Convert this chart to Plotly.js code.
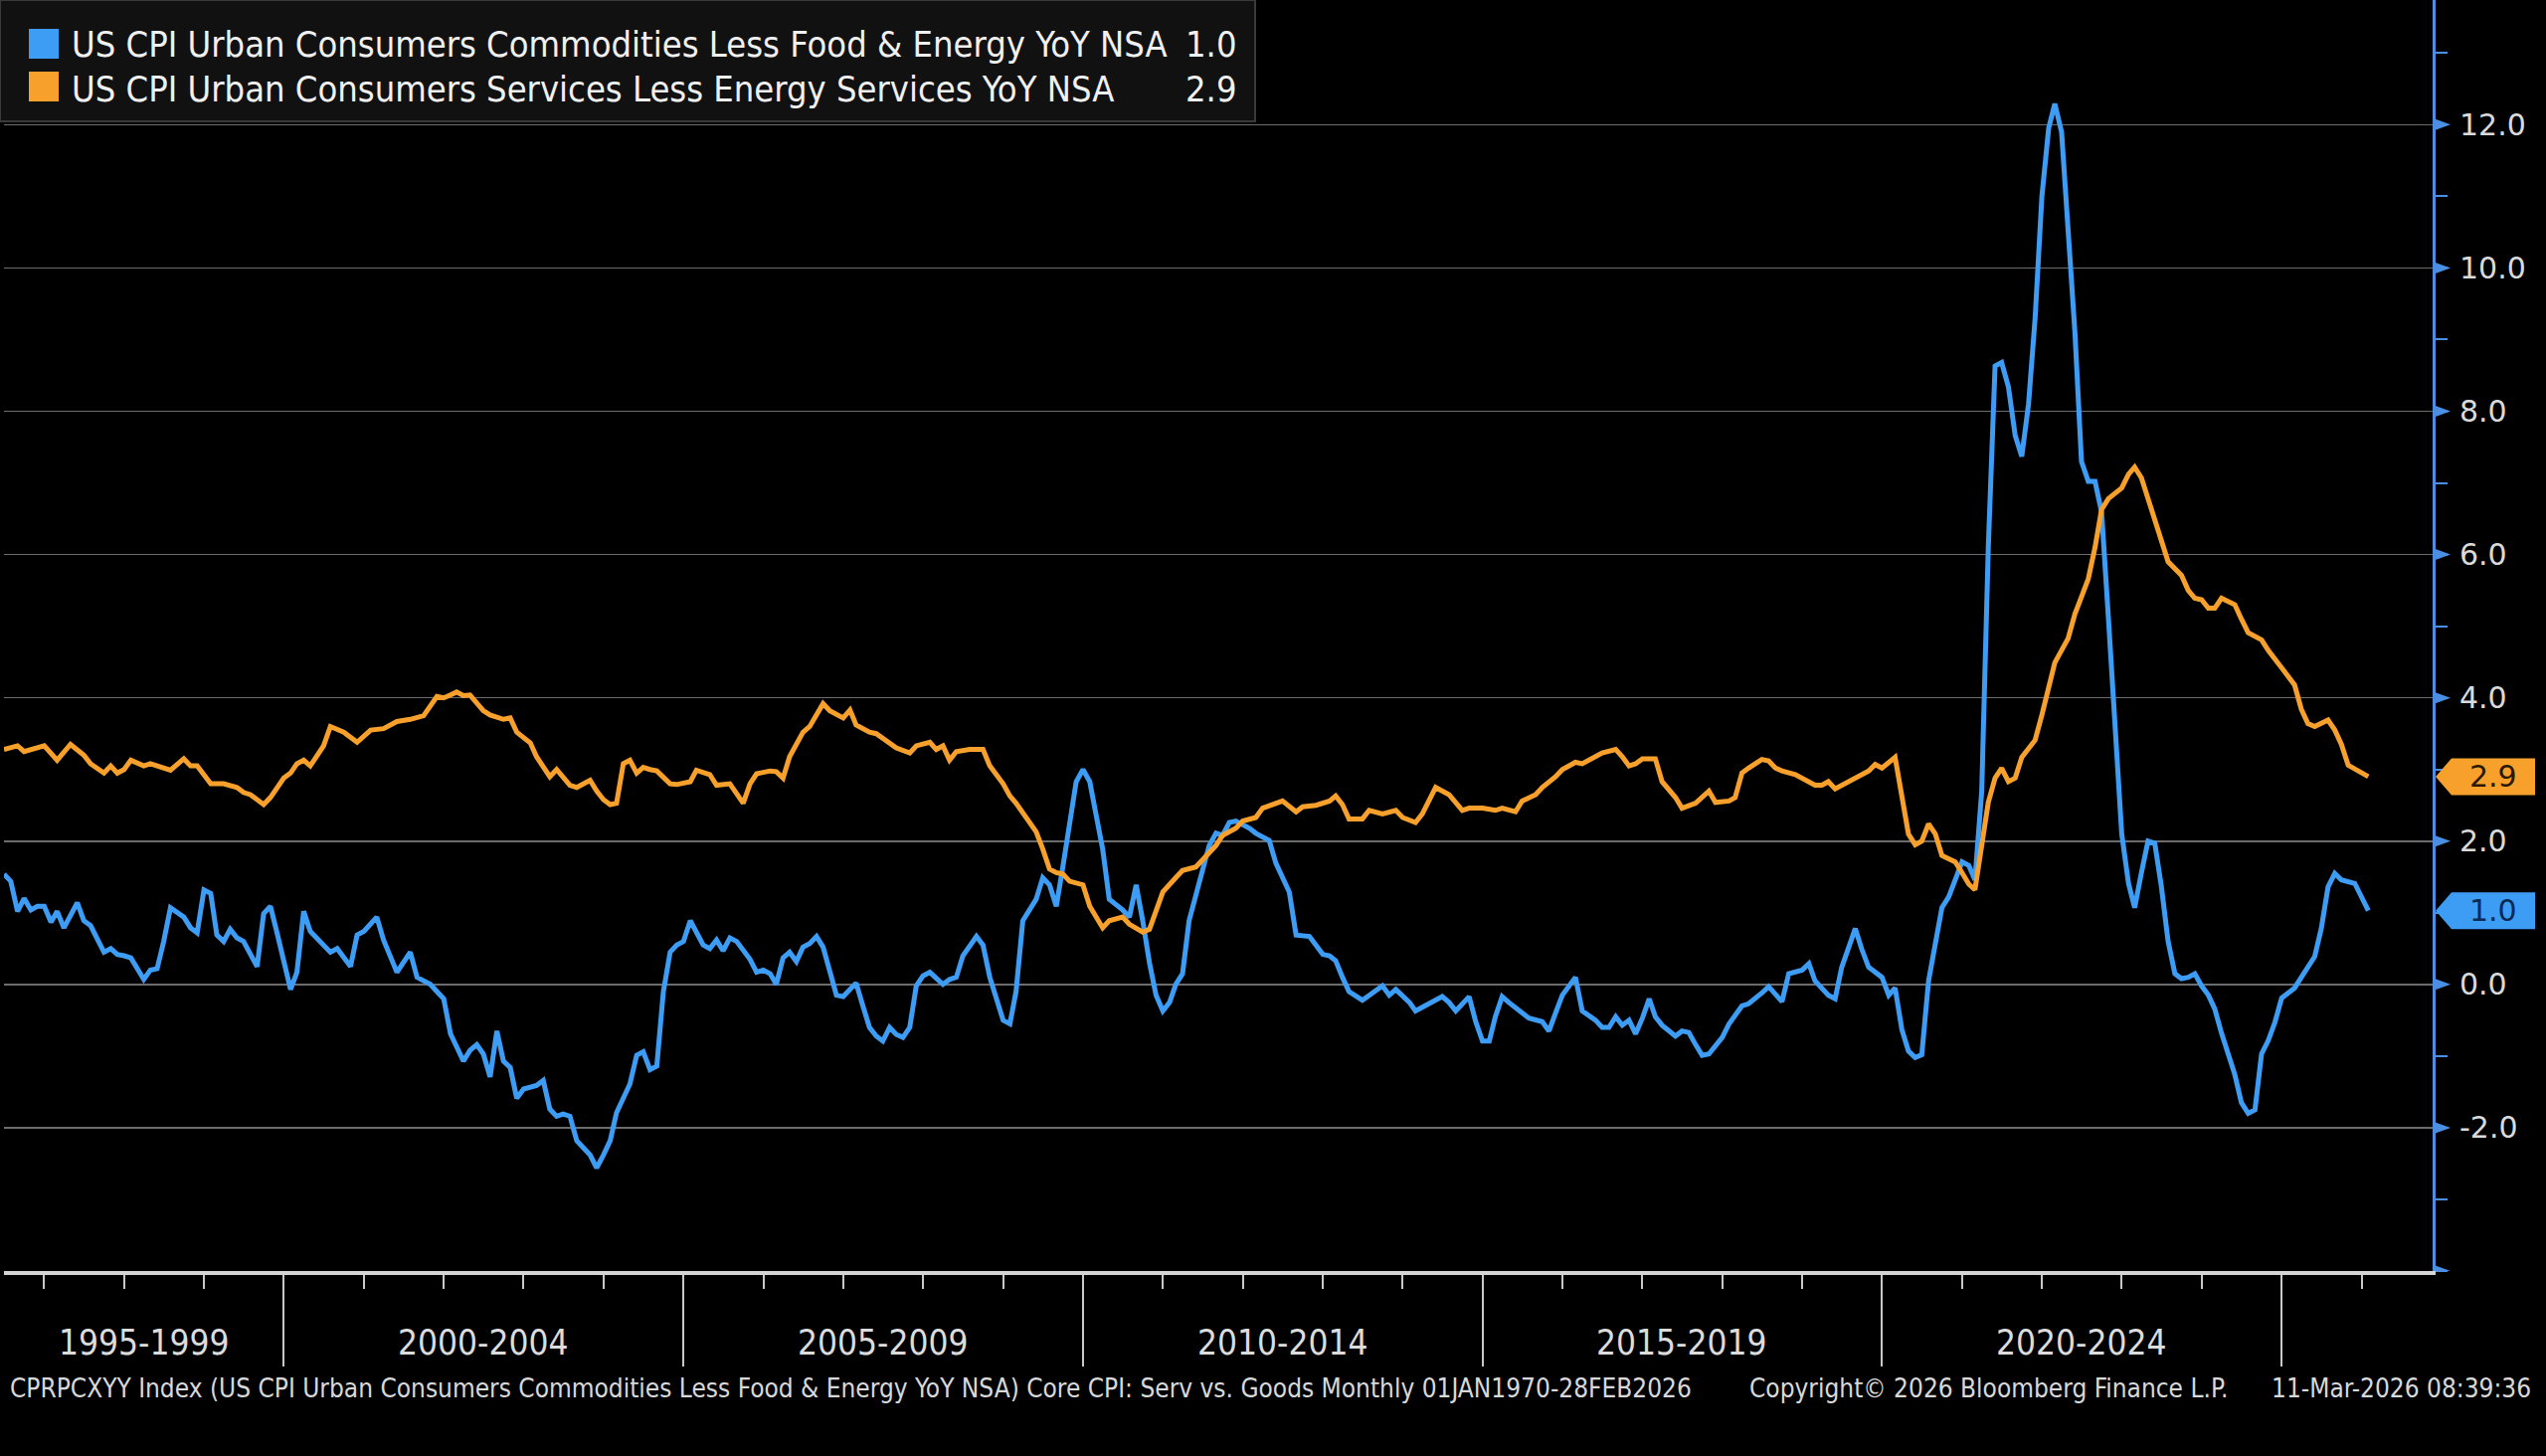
<!DOCTYPE html>
<html>
<head>
<meta charset="utf-8">
<script src="https://cdn.plot.ly/plotly-3.0.1.min.js"></script>
<style>
html,body{margin:0;padding:0;background:#000;}
#chart{width:2560px;height:1464px;}
</style>
</head>
<body>
<div id="chart"></div>
<script>
// ---------------- DATA ----------------
const goodsName = "US CPI Urban Consumers Commodities Less Food & Energy YoY NSA";
const servicesName = "US CPI Urban Consumers Services Less Energy Services YoY NSA";

const goodsDates = [
"1996-06","1996-07","1996-08","1996-09","1996-10","1996-11","1996-12",
"1997-01","1997-02","1997-03","1997-05","1997-06","1997-07","1997-09","1997-10","1997-11","1997-12",
"1998-01","1998-03","1998-04","1998-05","1998-06","1998-07","1998-09","1998-10","1998-11","1998-12",
"1999-01","1999-02","1999-03","1999-04","1999-05","1999-06","1999-08","1999-09","1999-10","1999-11",
"2000-01","2000-02","2000-03","2000-04","2000-05","2000-07","2000-08","2000-10","2000-11","2000-12",
"2001-02","2001-03","2001-05","2001-06","2001-07","2001-08","2001-10","2001-11","2001-12",
"2002-01","2002-02","2002-03","2002-04","2002-05","2002-06","2002-07","2002-08","2002-09","2002-10","2002-11","2002-12",
"2003-02","2003-03","2003-04","2003-05","2003-06","2003-07","2003-08","2003-10","2003-11","2003-12",
"2004-01","2004-02","2004-04","2004-05","2004-06","2004-07","2004-08","2004-09","2004-10","2004-11","2004-12",
"2005-01","2005-02","2005-03","2005-04","2005-05","2005-06","2005-07","2005-08","2005-10","2005-11","2005-12",
"2006-01","2006-02","2006-03","2006-04","2006-05","2006-06","2006-07","2006-08","2006-09","2006-11","2006-12",
"2007-02","2007-03","2007-04","2007-05","2007-06","2007-07","2007-08","2007-09","2007-10","2007-11","2007-12",
"2008-01","2008-03","2008-04","2008-05","2008-06","2008-08","2008-09","2008-10","2008-12",
"2009-01","2009-02","2009-03","2009-05","2009-06","2009-07","2009-08","2009-09","2009-10","2009-11","2009-12",
"2010-01","2010-02","2010-03","2010-04","2010-06","2010-07","2010-08","2010-09","2010-10","2010-11","2010-12",
"2011-01","2011-02","2011-03","2011-04","2011-06","2011-07","2011-08","2011-09","2011-10","2011-11",
"2012-01","2012-02","2012-04","2012-05","2012-07","2012-08","2012-10","2012-11","2012-12",
"2013-01","2013-02","2013-03","2013-04","2013-06","2013-07","2013-09","2013-10","2013-11",
"2014-01","2014-02","2014-04","2014-06","2014-07","2014-08","2014-10","2014-11","2014-12",
"2015-01","2015-02","2015-03","2015-04","2015-06","2015-07","2015-09","2015-10","2015-11","2015-12",
"2016-02","2016-03","2016-05","2016-06","2016-07","2016-08","2016-09","2016-10","2016-11","2016-12",
"2017-01","2017-02","2017-03","2017-05","2017-06","2017-07","2017-08","2017-09","2017-10","2017-12",
"2018-01","2018-03","2018-04","2018-05","2018-06","2018-07","2018-08","2018-09","2018-10","2018-12",
"2019-01","2019-02","2019-04","2019-05","2019-06","2019-07","2019-08","2019-09","2019-10","2019-12",
"2020-01","2020-02","2020-03","2020-04","2020-05","2020-06","2020-07","2020-09","2020-10","2020-11","2020-12",
"2021-01","2021-02","2021-03","2021-04","2021-05","2021-06","2021-07","2021-08","2021-09","2021-10","2021-11","2021-12",
"2022-01","2022-02","2022-03","2022-04","2022-05","2022-06","2022-07","2022-08","2022-09","2022-10","2022-11","2022-12",
"2023-01","2023-02","2023-03","2023-04","2023-05","2023-06","2023-07","2023-08","2023-09","2023-10","2023-11","2023-12",
"2024-01","2024-02","2024-03","2024-05","2024-06","2024-07","2024-08","2024-09","2024-10","2024-11","2024-12",
"2025-02","2025-03","2025-05","2025-06","2025-07","2025-08","2025-09","2025-11","2025-12",
"2026-01"
];
const goodsValues = [
1.54,1.44,1.02,1.20,1.04,1.09,1.09,
0.87,1.02,0.79,1.14,0.89,0.82,0.45,0.50,0.42,0.40,
0.37,0.07,0.20,0.22,0.60,1.07,0.94,0.79,0.72,1.32,
1.27,0.69,0.60,0.77,0.65,0.60,0.25,0.99,1.09,0.72,
-0.07,0.17,1.02,0.74,0.65,0.45,0.50,0.25,0.69,0.74,
0.94,0.62,0.17,0.32,0.45,0.10,0.00,-0.10,-0.20,
-0.69,-0.89,-1.07,-0.92,-0.84,-0.97,-1.29,-0.65,-1.07,-1.16,-1.59,-1.46,
-1.41,-1.34,-1.74,-1.84,-1.81,-1.84,-2.18,-2.38,-2.56,-2.38,
-2.18,-1.79,-1.39,-0.99,-0.94,-1.19,-1.14,-0.10,0.45,0.55,0.60,
0.89,0.72,0.55,0.50,0.62,0.47,0.65,0.60,0.35,0.17,0.20,
0.15,0.00,0.37,0.45,0.32,0.52,0.57,0.67,0.52,-0.15,-0.17,
0.02,-0.30,-0.60,-0.72,-0.79,-0.60,-0.70,-0.74,-0.60,-0.02,0.12,
0.17,0.00,0.07,0.10,0.40,0.67,0.55,0.10,-0.50,
-0.55,-0.10,0.89,1.19,1.49,1.39,1.09,1.64,2.28,2.83,3.00,
2.83,2.38,1.89,1.19,1.04,0.94,1.39,0.89,0.30,-0.15,-0.37,
-0.25,0.00,0.15,0.89,1.59,1.94,2.11,2.08,2.26,2.28,
2.18,2.11,2.01,1.69,1.29,0.69,0.67,0.55,0.42,
0.40,0.33,0.10,-0.10,-0.22,-0.15,-0.02,-0.15,-0.07,
-0.25,-0.37,-0.27,-0.17,-0.25,-0.37,-0.17,-0.52,-0.79,
-0.79,-0.45,-0.17,-0.25,-0.40,-0.47,-0.52,-0.65,-0.40,-0.15,
0.10,-0.37,-0.50,-0.60,-0.60,-0.45,-0.57,-0.50,-0.69,-0.47,
-0.20,-0.45,-0.57,-0.72,-0.65,-0.67,-0.84,-0.99,-0.97,-0.74,
-0.55,-0.30,-0.27,-0.20,-0.12,-0.03,-0.15,-0.24,0.15,0.20,
0.29,0.05,-0.15,-0.20,0.24,0.49,0.78,0.49,0.24,0.10,
-0.15,-0.05,-0.63,-0.93,-1.02,-0.98,0.05,1.07,1.22,1.46,1.71,
1.66,1.46,2.70,6.10,8.63,8.68,8.34,7.66,7.37,8.10,9.30,11.00,
11.95,12.29,11.90,10.50,9.10,7.30,7.02,7.02,6.59,5.12,3.56,2.10,
1.41,1.07,1.56,2.00,1.97,1.37,0.60,0.15,0.08,0.10,0.15,-0.02,
-0.15,-0.34,-0.68,-1.26,-1.65,-1.80,-1.75,-0.97,-0.78,-0.53,-0.19,
-0.05,0.10,0.39,0.78,1.36,1.55,1.46,1.41,1.21,
1.03
];

const servicesDates = [
"1996-06","1996-08","1996-09","1996-10","1996-12",
"1997-02","1997-04","1997-06","1997-07","1997-09","1997-10","1997-11","1997-12",
"1998-01","1998-03","1998-04","1998-06","1998-07","1998-09","1998-10","1998-11",
"1999-01","1999-03","1999-05","1999-06","1999-07","1999-09","1999-10","1999-12",
"2000-01","2000-02","2000-03","2000-04","2000-06","2000-07","2000-09","2000-11",
"2001-01","2001-03","2001-05","2001-07","2001-09","2001-11","2001-12",
"2002-01","2002-02","2002-03","2002-04","2002-06","2002-07","2002-09","2002-10","2002-11",
"2003-01","2003-02","2003-04","2003-05","2003-06","2003-07","2003-08","2003-10","2003-11","2003-12",
"2004-01","2004-02","2004-03","2004-04","2004-05","2004-06","2004-07","2004-08","2004-10","2004-11",
"2005-01","2005-02","2005-04","2005-05","2005-07","2005-08","2005-09","2005-10","2005-11",
"2006-01","2006-02","2006-03","2006-04","2006-06","2006-07","2006-09","2006-10","2006-12",
"2007-01","2007-02","2007-04","2007-05","2007-06","2007-08","2007-10","2007-11",
"2008-01","2008-02","2008-03","2008-04","2008-05","2008-07","2008-09","2008-10","2008-12",
"2009-01","2009-02","2009-04","2009-05","2009-06","2009-07","2009-08","2009-09","2009-10","2009-12",
"2010-01","2010-02","2010-03","2010-04","2010-06","2010-07","2010-09","2010-10","2010-11","2010-12",
"2011-02","2011-03","2011-05","2011-06","2011-08","2011-09","2011-11","2011-12",
"2012-02","2012-03","2012-05","2012-06","2012-08","2012-09","2012-11","2012-12",
"2013-01","2013-02","2013-03","2013-04","2013-06","2013-07","2013-09","2013-11","2013-12",
"2014-02","2014-03","2014-05","2014-07","2014-09","2014-10","2014-12",
"2015-02","2015-03","2015-05","2015-06","2015-08","2015-09","2015-11","2015-12",
"2016-02","2016-03","2016-05","2016-06","2016-08","2016-09","2016-10","2016-11","2016-12",
"2017-02","2017-03","2017-05","2017-06","2017-08","2017-10","2017-11",
"2018-01","2018-02","2018-03","2018-04","2018-06","2018-07","2018-08","2018-09","2018-11","2018-12",
"2019-02","2019-03","2019-04","2019-05","2019-07","2019-08","2019-10","2019-11","2019-12",
"2020-02","2020-03","2020-04","2020-05","2020-06","2020-07","2020-08","2020-09","2020-11","2020-12",
"2021-01","2021-02","2021-03","2021-04","2021-05","2021-06","2021-07","2021-08","2021-09","2021-11","2021-12",
"2022-01","2022-02","2022-04","2022-05","2022-06","2022-07","2022-08","2022-09","2022-10","2022-12",
"2023-01","2023-02","2023-03","2023-05","2023-06","2023-07","2023-09","2023-10","2023-11","2023-12",
"2024-01","2024-02","2024-03","2024-05","2024-06","2024-07","2024-09","2024-10","2024-12",
"2025-02","2025-03","2025-04","2025-05","2025-07","2025-08","2025-09","2025-10","2025-11",
"2026-01"
];
const servicesValues = [
3.28,3.33,3.25,3.28,3.33,
3.13,3.35,3.20,3.08,2.95,3.05,2.95,3.00,
3.13,3.05,3.08,3.03,2.99,3.15,3.05,3.05,
2.80,2.80,2.75,2.68,2.65,2.51,2.61,2.88,
2.95,3.08,3.13,3.05,3.33,3.60,3.52,3.38,
3.55,3.57,3.67,3.70,3.75,4.02,4.00,
4.04,4.08,4.03,4.04,3.82,3.76,3.70,3.72,3.52,
3.37,3.18,2.90,3.00,2.90,2.78,2.75,2.85,2.70,2.58,
2.51,2.53,3.08,3.13,2.95,3.03,3.00,2.98,2.80,2.79,
2.83,2.99,2.93,2.78,2.80,2.65,2.53,2.80,2.94,
2.98,2.97,2.88,3.18,3.52,3.60,3.92,3.82,3.72,
3.83,3.62,3.52,3.50,3.43,3.30,3.23,3.33,
3.38,3.28,3.33,3.13,3.25,3.28,3.28,3.05,2.80,
2.63,2.53,2.28,2.13,1.89,1.61,1.56,1.54,1.44,1.39,
1.09,0.94,0.79,0.89,0.94,0.84,0.73,0.77,1.04,1.29,
1.49,1.59,1.64,1.74,1.94,2.08,2.18,2.28,
2.33,2.46,2.53,2.56,2.41,2.48,2.50,2.53,
2.56,2.63,2.51,2.31,2.31,2.43,2.38,2.43,2.33,
2.26,2.38,2.75,2.65,2.43,2.46,2.46,
2.43,2.46,2.41,2.56,2.65,2.75,2.90,3.00,
3.10,3.08,3.18,3.23,3.28,3.18,3.05,3.08,3.15,
3.15,2.83,2.61,2.46,2.53,2.70,2.54,
2.56,2.61,2.95,3.02,3.14,3.12,3.02,2.98,2.93,2.88,
2.78,2.78,2.83,2.73,2.83,2.88,2.98,3.07,3.02,
3.17,2.59,2.10,1.95,2.00,2.24,2.10,1.80,1.71,1.56,
1.40,1.32,2.00,2.54,2.88,3.02,2.83,2.88,3.17,3.41,3.76,
4.15,4.49,4.83,5.17,5.41,5.66,6.10,6.63,6.78,6.93,
7.12,7.22,7.07,6.50,6.24,5.90,5.71,5.50,5.39,5.37,
5.25,5.25,5.39,5.30,5.10,4.91,4.81,4.66,4.42,
4.18,3.84,3.64,3.60,3.69,3.55,3.35,3.06,3.01,
2.90
];

const yTickValues = [-4, -2, 0, 2, 4, 6, 8, 10, 12];
const yLabelValues = [-2, 0, 2, 4, 6, 8, 10, 12];
const periodLabels = ["1995-1999","2000-2004","2005-2009","2010-2014","2015-2019","2020-2024"];
const periodStarts = ["1995-01-01","2000-01-01","2005-01-01","2010-01-01","2015-01-01","2020-01-01"];
const periodEnds   = ["2000-01-01","2005-01-01","2010-01-01","2015-01-01","2020-01-01","2025-01-01"];
const footerLeft = "CPRPCXYY Index (US CPI Urban Consumers Commodities Less Food & Energy YoY NSA) Core CPI: Serv vs. Goods Monthly 01JAN1970-28FEB2026";
const footerMid = "Copyright\u00A9 2026 Bloomberg Finance L.P.";
const footerRight = "11-Mar-2026 08:39:36";

// ---------------- LAYOUT / STYLE ----------------
const W = 2560, H = 1464;
const MG = {l: 4, r: 114, t: 0, b: 186};
const PW = W - MG.l - MG.r, PH = H - MG.t - MG.b;
const px = x => (x - MG.l) / PW;          // pixel x -> paper x
const py = y => (H - MG.b - y) / PH;      // pixel y -> paper y
const xStart = "1996-07-01", xEnd = "2026-11-22";
const yMin = -4, yMax = 13.74;
const unitPx = PH / (yMax - yMin);

const BLUE = "#3d9df5", ORANGE = "#f7a12c", AXIS_BLUE = "#4a8fe3";
const COND = "'DejaVu Sans Condensed', 'Liberation Sans Narrow', 'DejaVu Sans', sans-serif";
const SANS = "'DejaVu Sans', Verdana, sans-serif";

const traces = [
  {x: goodsDates, y: goodsValues, type: "scatter", mode: "lines", name: goodsName,
   xperiod: "M1", xperiodalignment: "end", line: {color: BLUE, width: 5}, hoverinfo: "skip"},
  {x: servicesDates, y: servicesValues, type: "scatter", mode: "lines", name: servicesName,
   xperiod: "M1", xperiodalignment: "end", line: {color: ORANGE, width: 5}, hoverinfo: "skip"}
];

const lastGoods = goodsValues[goodsValues.length - 1];
const lastServ = servicesValues[servicesValues.length - 1];

const shapes = [];
const annotations = [];

// legend box
shapes.push({type: "rect", xref: "paper", yref: "paper", layer: "above",
  x0: px(0), x1: px(1262), y0: py(122), y1: py(0),
  fillcolor: "#111111", line: {color: "#3a3a3a", width: 2}});
[[BLUE, 29], [ORANGE, 72]].forEach(([c, top]) => {
  shapes.push({type: "rect", xref: "paper", yref: "paper", layer: "above",
    x0: px(29), x1: px(59), y0: py(top + 30), y1: py(top), fillcolor: c, line: {width: 0}});
});
[[goodsName, lastGoods, 45], [servicesName, lastServ, 89]].forEach(([t, v, yy]) => {
  annotations.push({xref: "paper", yref: "paper", x: px(70), y: py(yy), xanchor: "left", yanchor: "middle",
    text: t, showarrow: false, font: {family: COND, size: 36, color: "#f0f0f0"}});
  annotations.push({xref: "paper", yref: "paper", x: px(1246), y: py(yy), xanchor: "right", yanchor: "middle",
    text: v.toFixed(1), showarrow: false, font: {family: COND, size: 36, color: "#f0f0f0"}});
});

// right axis triangle ticks
const th = 6.5 / unitPx;
yTickValues.forEach(v => {
  shapes.push({type: "path", xref: "paper", yref: "y", layer: "above",
    path: `M ${px(2446)},${v + th} L ${px(2464)},${v} L ${px(2446)},${v - th} Z`,
    fillcolor: AXIS_BLUE, line: {width: 0}});
});

// last-value tags
const tagH = 18.5 / unitPx;
[[lastServ, ORANGE, "#2b1800"], [lastGoods, BLUE, "#0b2a55"]].forEach(([v, c, tc]) => {
  shapes.push({type: "path", xref: "paper", yref: "y", layer: "above",
    path: `M ${px(2449)},${v} L ${px(2465)},${v + tagH} L ${px(2549)},${v + tagH} L ${px(2549)},${v - tagH} L ${px(2465)},${v - tagH} Z`,
    fillcolor: c, line: {width: 0}});
  annotations.push({xref: "paper", yref: "y", x: px(2507), y: v, xanchor: "center", yanchor: "middle",
    text: v.toFixed(1), showarrow: false, font: {family: SANS, size: 30, color: tc}});
});

// period labels (centred in the visible part of each 5-year span)
const toMs = s => new Date(s + "T00:00:00Z").getTime();
const fmt = ms => new Date(ms).toISOString().slice(0, 10);
periodLabels.forEach((lab, i) => {
  const a = Math.max(toMs(periodStarts[i]), toMs(xStart));
  const b = Math.min(toMs(periodEnds[i]), toMs(xEnd));
  annotations.push({xref: "x", yref: "paper", x: fmt((a + b) / 2), y: py(1350), xanchor: "center", yanchor: "middle",
    text: lab, showarrow: false, font: {family: COND, size: 35, color: "#dcdcdc"}});
});

// footer
annotations.push({xref: "paper", yref: "paper", x: px(8), y: py(1396), xanchor: "left", yanchor: "middle",
  text: footerLeft, showarrow: false, font: {family: COND, size: 26, color: "#d8d8d8"}});
annotations.push({xref: "paper", yref: "paper", x: px(1757), y: py(1396), xanchor: "left", yanchor: "middle",
  text: footerMid, showarrow: false, font: {family: COND, size: 26, color: "#d8d8d8"}});
annotations.push({xref: "paper", yref: "paper", x: px(2547), y: py(1396), xanchor: "right", yanchor: "middle",
  text: footerRight, showarrow: false, font: {family: COND, size: 26, color: "#d8d8d8"}});

const layout = {
  width: W, height: H,
  margin: MG,
  paper_bgcolor: "#000000", plot_bgcolor: "#000000",
  showlegend: false,
  hovermode: false,
  xaxis: {
    type: "date", range: [xStart, xEnd], showgrid: false, zeroline: false,
    showline: true, linecolor: "#d4d4d4", linewidth: 4,
    ticks: "outside", tickmode: "linear", tick0: "2000-01-01", dtick: "M60",
    ticklen: 92, tickwidth: 2, tickcolor: "#c8c8c8", showticklabels: false,
    minor: {tickmode: "linear", tick0: "2000-01-01", dtick: "M12", ticks: "outside",
            ticklen: 14, tickwidth: 2, tickcolor: "#c8c8c8", showgrid: false},
    fixedrange: true
  },
  yaxis: {
    side: "right", range: [yMin, yMax], zeroline: false,
    tickmode: "array", tickvals: yLabelValues, ticktext: yLabelValues.map(v => v.toFixed(1)),
    showgrid: true, gridcolor: "#6c6c6c", gridwidth: 1.5,
    showline: true, linecolor: AXIS_BLUE, linewidth: 3,
    ticks: "outside", ticklen: 18, tickcolor: "rgba(0,0,0,0)",
    tickfont: {family: SANS, size: 30, color: "#dadada"},
    minor: {tickmode: "linear", tick0: -4, dtick: 1, ticks: "outside", ticklen: 12,
            tickwidth: 2, tickcolor: AXIS_BLUE, showgrid: false},
    fixedrange: true
  },
  shapes: shapes,
  annotations: annotations
};

Plotly.newPlot("chart", traces, layout, {displayModeBar: false, staticPlot: true});
</script>
</body>
</html>
